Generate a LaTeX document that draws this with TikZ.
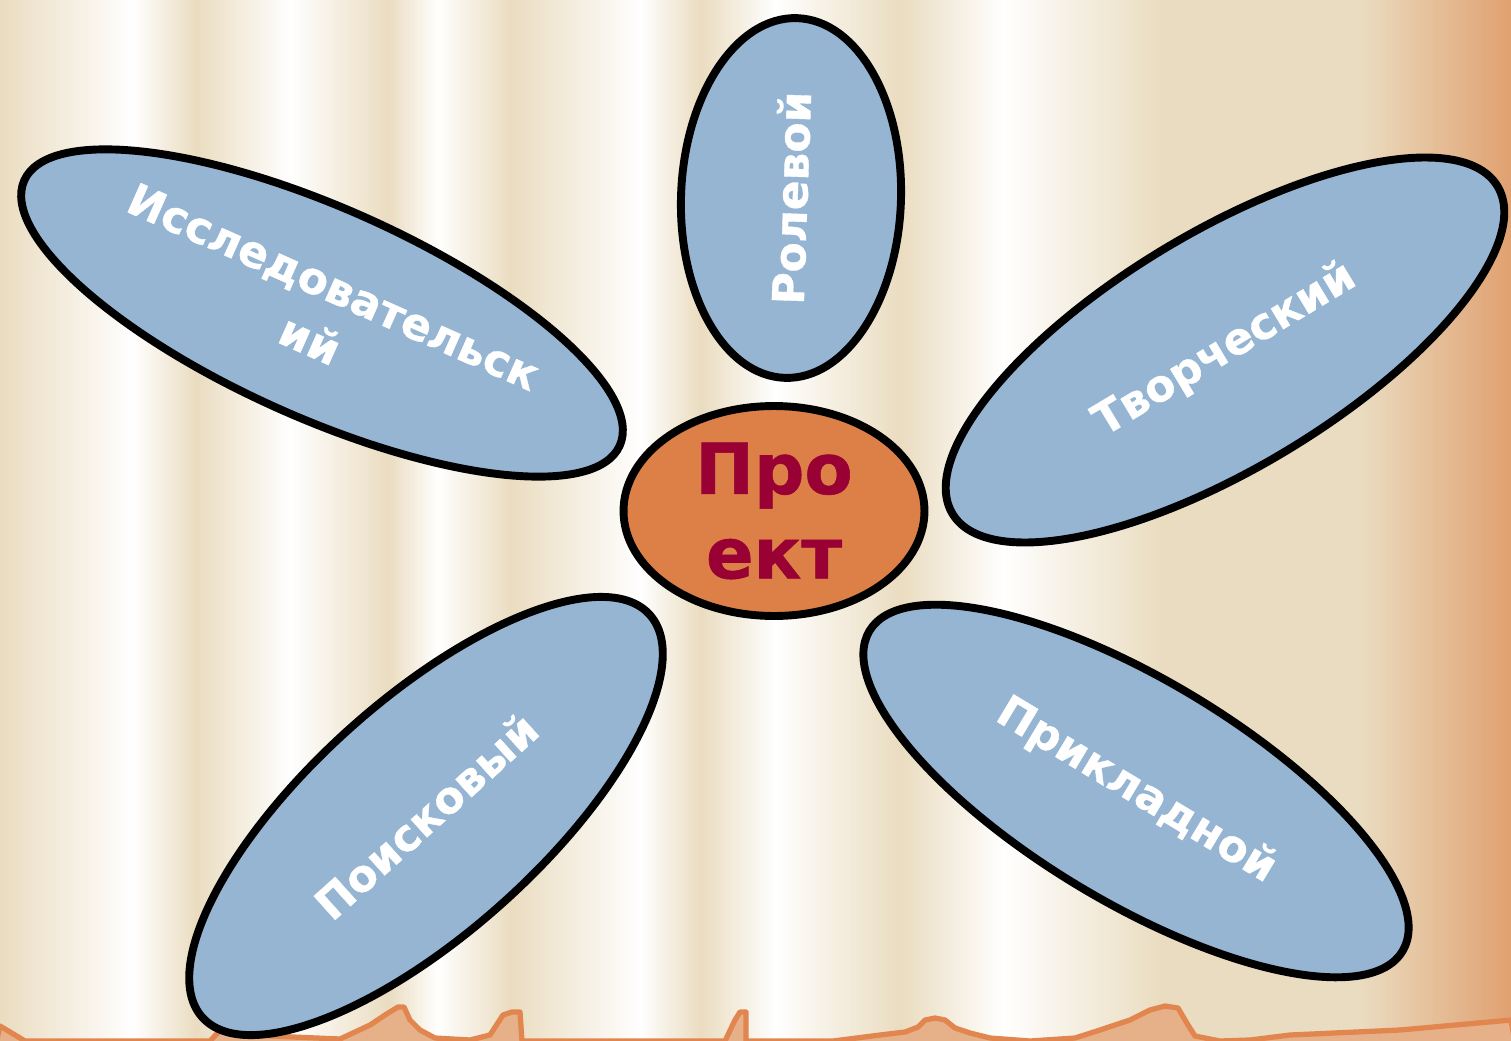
\documentclass[tikz,border=0pt]{standalone}
\usepackage{fontspec}
\setmainfont{DejaVu Sans}[BoldFeatures={FakeBold=0.8}]
\usetikzlibrary{shapes.geometric}
\definecolor{paper}{RGB}{234,220,192}
\definecolor{rust}{RGB}{224,160,112}
\definecolor{petalblue}{RGB}{149,181,211}
\definecolor{coreorange}{RGB}{220,128,72}
\definecolor{wine}{RGB}{153,0,51}
\definecolor{edgeline}{RGB}{226,134,80}
\definecolor{edgefill}{RGB}{230,176,136}
\begin{document}
\begin{tikzpicture}[x=0.02cm, y=-0.02cm,
    petal/.style={ellipse, draw=black, line width=4.5pt, fill=petalblue, text=white,
      inner sep=0pt, align=center, font=\bfseries\fontsize{25}{33}\selectfont},
    core/.style={ellipse, draw=black, line width=4.5pt, fill=coreorange, text=wine,
      inner sep=0pt, align=center, font=\bfseries\fontsize{40}{48}\selectfont}]
    \useasboundingbox (0,0) rectangle (1511,1041);
    % scroll paper
    \foreach \xa/\ca/\xb/\cb in {0/paper/133/white, 133/white/195/paper, 195/paper/290/white,
        290/white/388/paper, 388/paper/437/white, 437/white/510/paper, 510/paper/640/white,
        640/white/700/paper, 700/paper/775/white, 775/white/900/paper, 900/paper/1003/white,
        1003/white/1160/paper, 1160/paper/1360/paper, 1360/paper/1511/rust}
      { \shade[left color=\ca, right color=\cb] (\xa,0) rectangle (\xb+1,1041); }
    % torn lower edge
    \filldraw[fill=edgefill, draw=edgeline, line width=3pt, line join=round]
      (0,1026) -- (25,1041) -- (210,1041) -- (225,1025) -- (240,1032) -- (270,1036) -- (340,1039)
      -- (370,1025) -- (385,1015) -- (398,1007) -- (404,1007) -- (410,1020) -- (420,1030)
      -- (435,1038) -- (470,1040) -- (490,1035) -- (503,1015) -- (512,1012) -- (520,1012)
      -- (522,1041) -- (725,1041) -- (735,1020) -- (740,1012) -- (746,1012) -- (746,1041)
      -- (833,1041) -- (880,1035) -- (905,1032) -- (918,1027) -- (925,1020) -- (935,1018)
      -- (945,1020) -- (955,1028) -- (970,1033) -- (990,1038) -- (1030,1041) -- (1075,1038)
      -- (1100,1030) -- (1130,1020) -- (1150,1010) -- (1165,1006) -- (1178,1008) -- (1188,1025)
      -- (1195,1036) -- (1220,1041) -- (1250,1040) -- (1290,1035) -- (1400,1030) -- (1511,1020)
      -- (1520,1070) -- (-10,1070) -- cycle;
    % petals
    \node[petal, minimum width=13.04cm, minimum height=4.2cm, rotate=-24] (is) at (322,313) {Исследовательск\\ий};
    \node[petal, minimum width=7.2cm, minimum height=4.4cm, rotate=88] (ro) at (791,198) {Ролевой};
    \node[petal, minimum width=12.72cm, minimum height=4.72cm, rotate=31] (tv) at (1225,350) {Творческий};
    \node[petal, minimum width=12.44cm, minimum height=4.44cm, rotate=-31] (pk) at (1136,791) {Прикладной};
    \node[petal, minimum width=12.04cm, minimum height=4.64cm, rotate=42] (po) at (426,816) {Поисковый};
    % centre
    \node[core, minimum width=6.02cm, minimum height=4.2cm] (pr) at (774,511) {Про\\ект};
\end{tikzpicture}
\end{document}
